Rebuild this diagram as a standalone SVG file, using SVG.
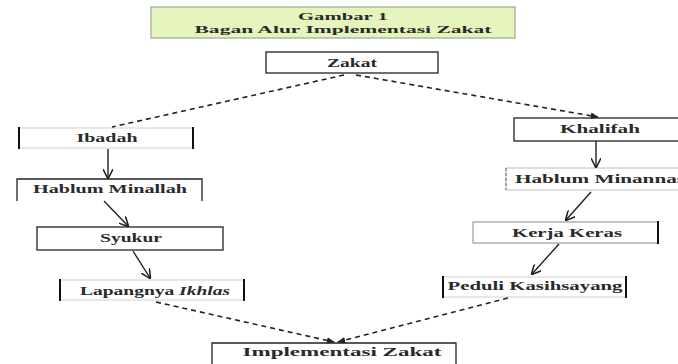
<svg xmlns="http://www.w3.org/2000/svg" width="678" height="364" viewBox="0 0 678 364">
<style>
.t{font-family:"Liberation Serif","Times New Roman",serif;font-size:12px;font-weight:bold;fill:#2a2a2a;text-anchor:middle}
.box{fill:#fff;stroke:#222;stroke-width:1.3}
.faint{fill:#fff;stroke:#cfcfcf;stroke-width:1}
.bar{stroke:#111;stroke-width:2}
.c{stroke:#222;stroke-width:1.4;fill:none}
.d{stroke:#222;stroke-width:1.6;fill:none;stroke-dasharray:5 4}
</style>
<defs>
<marker id="ah" viewBox="0 0 10 10" refX="9" refY="5" markerWidth="7" markerHeight="7" orient="auto-start-reverse">
<path d="M0,0 L10,5 L0,10" fill="none" stroke="#222" stroke-width="1.6"/>
</marker>
<marker id="ahs" viewBox="0 0 10 10" refX="9" refY="5" markerWidth="5" markerHeight="5" orient="auto">
<path d="M0,1 L10,5 L0,9 z" fill="#222"/>
</marker>
</defs>
<rect width="678" height="364" fill="#fff"/>

<g id="title">
<rect x="151" y="7" width="364" height="31" fill="#e6f5be" stroke="#9aa88a" stroke-width="1.2"/>
<text class="t" x="343" y="20" textLength="90" lengthAdjust="spacingAndGlyphs" style="font-size:11px">Gambar 1</text>
<text class="t" x="343" y="33" textLength="297" lengthAdjust="spacingAndGlyphs" style="font-size:11px">Bagan Alur Implementasi Zakat</text>
</g>

<g id="zakat">
<rect class="box" x="266" y="52" width="172" height="21"/>
<text class="t" x="352" y="67" textLength="50" lengthAdjust="spacingAndGlyphs">Zakat</text>
</g>

<g id="ibadah">
<rect class="faint" x="19" y="128" width="174" height="20"/>
<line class="bar" x1="19" y1="127" x2="19" y2="149"/>
<line class="bar" x1="193" y1="127" x2="193" y2="149"/>
<text class="t" x="107" y="142" textLength="61" lengthAdjust="spacingAndGlyphs">Ibadah</text>
</g>

<g id="hablum-minallah">
<path d="M17,201 V179 H202 V201" fill="#fff" stroke="#222" stroke-width="1.3"/>
<text class="t" x="110" y="193" textLength="154" lengthAdjust="spacingAndGlyphs">Hablum Minallah</text>
</g>

<g id="syukur">
<rect class="box" x="37" y="227" width="186" height="23"/>
<text class="t" x="131" y="242" textLength="62" lengthAdjust="spacingAndGlyphs">Syukur</text>
</g>

<g id="lapang">
<rect class="faint" x="60" y="280" width="184" height="20"/>
<line class="bar" x1="60" y1="279" x2="60" y2="301"/>
<line class="bar" x1="244" y1="279" x2="244" y2="301"/>
<text class="t" x="155" y="295" textLength="150" lengthAdjust="spacingAndGlyphs">Lapangnya <tspan font-style="italic">Ikhlas</tspan></text>
</g>

<g id="khalifah">
<rect class="box" x="514" y="118" width="170" height="23"/>
<text class="t" x="600" y="133" textLength="80" lengthAdjust="spacingAndGlyphs">Khalifah</text>
</g>

<g id="hablum-minannas">
<rect x="506" y="168" width="180" height="22" fill="#fff" stroke="#bdbdbd" stroke-width="1"/>
<line x1="506" y1="168" x2="506" y2="190" stroke="#777" stroke-width="1.2" stroke-dasharray="3 2"/>
<text class="t" x="600" y="183" textLength="170" lengthAdjust="spacingAndGlyphs">Hablum Minannas</text>
</g>

<g id="kerja-keras">
<rect x="473" y="222" width="185" height="21" fill="#fff" stroke="#888" stroke-width="1"/>
<line class="bar" x1="658" y1="221" x2="658" y2="244"/>
<text class="t" x="567" y="237" textLength="110" lengthAdjust="spacingAndGlyphs">Kerja Keras</text>
</g>

<g id="peduli">
<rect class="faint" x="443" y="277" width="183" height="20"/>
<line class="bar" x1="443" y1="276" x2="443" y2="298"/>
<line class="bar" x1="626" y1="276" x2="626" y2="298"/>
<text class="t" x="535" y="290" textLength="175" lengthAdjust="spacingAndGlyphs">Peduli Kasihsayang</text>
</g>

<g id="implementasi">
<path d="M212,366 V343 H456 V366" fill="#fff" stroke="#222" stroke-width="1.3"/>
<text class="t" x="342" y="356" textLength="199" lengthAdjust="spacingAndGlyphs">Implementasi Zakat</text>
</g>

<g id="connectors">
<path class="d" d="M344,75 L112,127"/>
<path class="d" d="M356,75 L598,117" marker-end="url(#ahs)"/>
<path class="c" d="M108,149 V178" marker-end="url(#ah)"/>
<path class="c" d="M104,201 L128,226" marker-end="url(#ah)"/>
<path class="c" d="M133,251 L150,278" marker-end="url(#ah)"/>
<path class="c" d="M596,141 V167" marker-end="url(#ah)"/>
<path class="c" d="M591,192 L566,220" marker-end="url(#ah)"/>
<path class="c" d="M559,244 L532,274" marker-end="url(#ah)"/>
<path class="d" d="M156,302 L334,342" marker-end="url(#ahs)"/>
<path class="d" d="M508,298 L338,342" marker-end="url(#ahs)"/>
</g>
</svg>
